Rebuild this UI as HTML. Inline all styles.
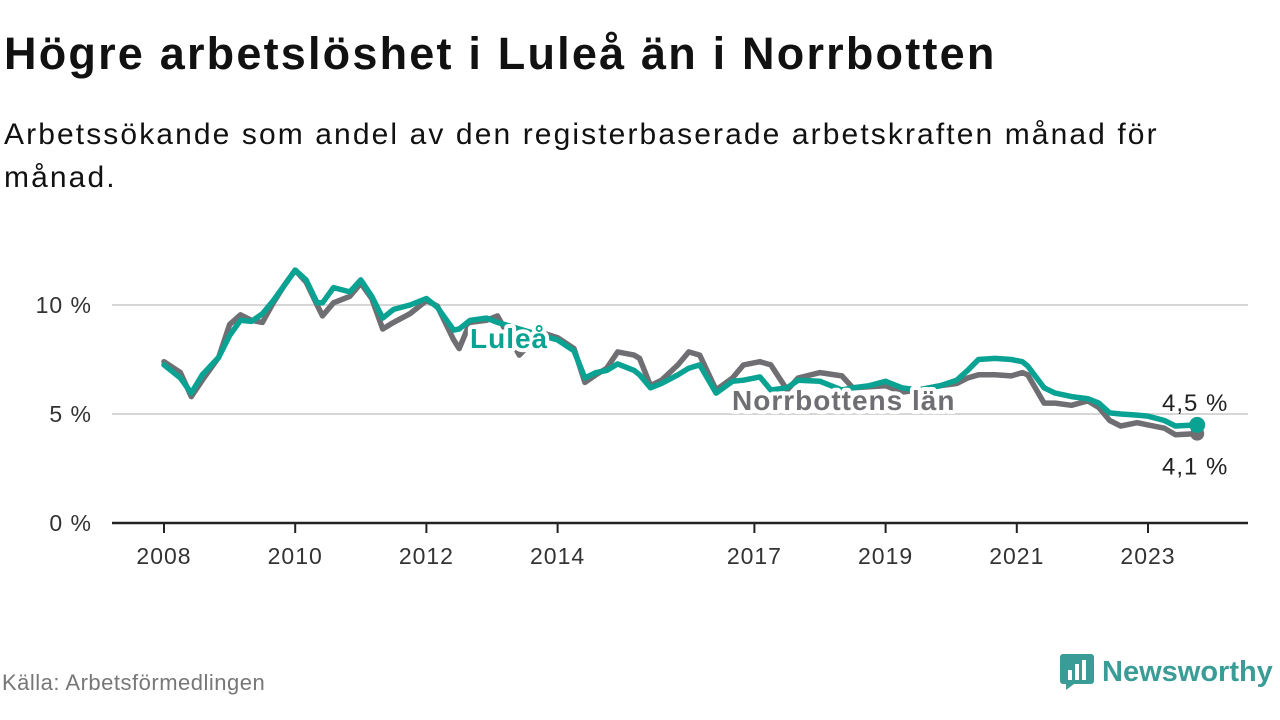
<!DOCTYPE html>
<html><head><meta charset="utf-8"><style>
body{margin:0;width:1280px;height:720px;background:#fff;font-family:"Liberation Sans",sans-serif;overflow:hidden;position:relative}
.t{position:absolute;left:4px;top:28px;font-size:45px;font-weight:bold;color:#111;letter-spacing:2.2px}
.s{position:absolute;left:4px;top:113px;font-size:30px;line-height:43px;color:#111;width:1200px;letter-spacing:2.1px}
.f{position:absolute;left:2px;top:670px;font-size:22px;color:#777;letter-spacing:0.5px}
.logo{position:absolute;left:1060px;top:654px;display:flex;align-items:center;font-size:29px;font-weight:bold;color:#3a9c96}
</style></head><body>
<div class="t">Högre arbetslöshet i Luleå än i Norrbotten</div>
<div class="s">Arbetssökande som andel av den registerbaserade arbetskraften månad för månad.</div>
<svg id="c" width="1280" height="720" style="position:absolute;left:0;top:0"></svg>
<div class="f">Källa: Arbetsförmedlingen</div>
<div class="logo"><svg width="34" height="36" style="margin-right:8px"><rect x="0" y="0" width="34" height="30" rx="3" fill="#3a9c96"/><polygon points="6,30 14,30 6,36" fill="#3a9c96"/><rect x="8" y="16" width="4" height="10" fill="#fff"/><rect x="15" y="10" width="4" height="16" fill="#fff"/><rect x="22" y="6" width="4" height="20" fill="#fff"/></svg>Newsworthy</div>
<script>
const months=[0,3,5,7,10,12,14,16,18,20,22,24,26,28,29,31,34,36,38,40,42,45,48,50,53,54,56,59,61,65,69,72,75,77,79,81,83,86,87,89,91,94,96,98,101,104,106,109,111,114,116,120,124,126,129,132,135,138,142,145,147,149,152,155,157,158,161,163,166,169,171,173,175,178,180,183,185,189];
const lulea=[7.25,6.65,5.96,6.8,7.6,8.6,9.3,9.25,9.6,10.2,10.9,11.6,11.15,10.1,10.1,10.8,10.6,11.15,10.4,9.4,9.8,10.0,10.3,9.9,8.85,8.9,9.3,9.4,9.2,8.9,8.6,8.4,7.9,6.65,6.9,7.0,7.3,7.0,6.8,6.2,6.4,6.8,7.1,7.25,5.96,6.5,6.55,6.7,6.1,6.2,6.55,6.5,6.1,6.2,6.3,6.5,6.2,6.1,6.3,6.55,7.0,7.5,7.55,7.5,7.4,7.2,6.2,5.96,5.8,5.7,5.5,5.05,5.0,4.95,4.9,4.7,4.45,4.5];
const norrbotten=[7.4,6.9,5.8,6.55,7.6,9.1,9.55,9.3,9.2,10.1,10.9,11.6,11.05,10.0,9.5,10.1,10.4,11.0,10.3,8.9,9.2,9.6,10.2,9.95,8.4,8.0,9.2,9.3,9.5,7.7,8.75,8.5,8.0,6.45,6.8,7.1,7.85,7.7,7.55,6.3,6.55,7.25,7.85,7.7,6.1,6.65,7.25,7.4,7.25,6.1,6.65,6.9,6.75,6.2,6.25,6.3,6.0,6.1,6.3,6.4,6.65,6.8,6.8,6.75,6.9,6.8,5.5,5.5,5.4,5.6,5.3,4.7,4.45,4.6,4.5,4.35,4.05,4.1];
const yTicks=[0,5,10];
const xTickYears=[2008,2010,2012,2014,2017,2019,2021,2023];
const NS="http://www.w3.org/2000/svg",svg=document.getElementById('c');
const xS=m=>164+m/12*65.6, yS=v=>523-v*21.8;
function mk(t,a,p){const e=document.createElementNS(NS,t);for(const k in a)e.setAttribute(k,a[k]);(p||svg).appendChild(e);return e;}
yTicks.forEach(v=>{
 const g=mk('line',{x1:112,x2:1248,y1:yS(v),y2:yS(v),stroke:v?'#d6d6d6':'#222','stroke-width':v?2:2.5});
 
 
 const t=mk('text',{x:92,y:yS(v)+8,'text-anchor':'end','font-size':23,fill:'#333','letter-spacing':1});t.textContent=v+' %';
 
 
});
xTickYears.forEach(y=>{
 const x=xS((y-2008)*12);
 const l=mk('line',{x1:x,x2:x,y1:523,y2:533,stroke:'#222','stroke-width':2});
 
 
 const t=mk('text',{x:x,y:564,'text-anchor':'middle','font-size':23,fill:'#333','letter-spacing':1});t.textContent=y;
 
 
});
function line(vals,color,name){
 const d=vals.map((v,i)=>(i?'L':'M')+xS(months[i]).toFixed(1)+','+yS(v).toFixed(1)).join('');
 const p=mk('path',{d:d,fill:'none',stroke:color,'stroke-width':5.5,'stroke-linejoin':'round','stroke-linecap':'round'});
 
 
}
line(norrbotten,'#6f6e72','norrbotten-line');
line(lulea,'#0aa393','lulea-line');
function lab(x,y,txt,col,name){
 const t=mk('text',{x:x,y:y,'font-size':28,'font-weight':'bold',fill:col,stroke:'#fff','stroke-width':8,'paint-order':'stroke','stroke-linejoin':'round','letter-spacing':1});t.textContent=txt;
 
 
}
lab(470,348,'Luleå','#0aa393','lulea-label');
lab(732,410,'Norrbottens län','#6f6e72','norrbotten-label');
const li=lulea.length-1,lm=months[li];
const d1=mk('circle',{cx:xS(lm),cy:yS(norrbotten[li]),r:7,fill:'#6f6e72'});


const d2=mk('circle',{cx:xS(lm),cy:yS(lulea[li]),r:8,fill:'#0aa393'});


const e1=mk('text',{x:1162,y:yS(lulea[li])-14,'font-size':24,fill:'#222','letter-spacing':1});e1.textContent=String(lulea[li]).replace('.',',')+' %';


const e2=mk('text',{x:1162,y:yS(norrbotten[li])+41,'font-size':24,fill:'#222','letter-spacing':1});e2.textContent=String(norrbotten[li]).replace('.',',')+' %';


</script>
</body></html>
